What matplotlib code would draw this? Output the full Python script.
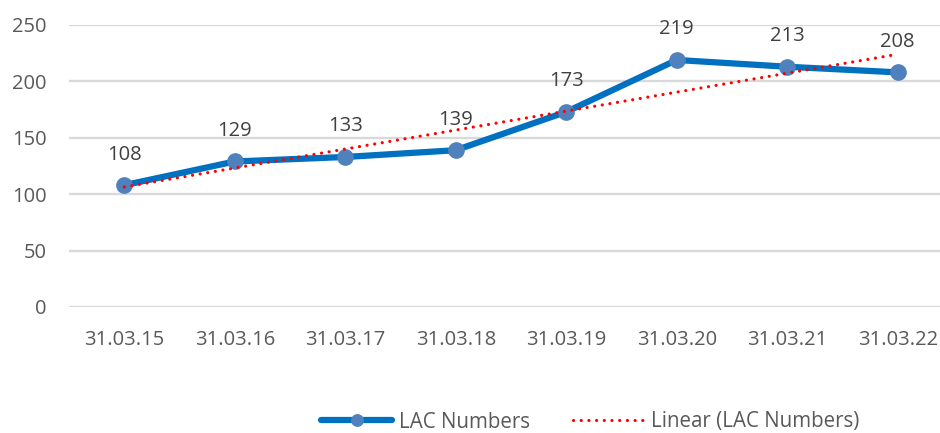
import matplotlib.pyplot as plt
import numpy as np

dates = ["31.03.15", "31.03.16", "31.03.17", "31.03.18",
         "31.03.19", "31.03.20", "31.03.21", "31.03.22"]
lac = [108, 129, 133, 139, 173, 219, 213, 208]

plt.rcParams['font.family'] = ['Open Sans', 'DejaVu Sans']

fig = plt.figure(figsize=(9.4, 4.33), dpi=100)
# plot area runs a little past the right edge, like the cropped original
ax = fig.add_axes([69/940, 1-307/433, 884/940, 282/433])

x = np.arange(len(lac))
line, = ax.plot(x, lac, color='#0070C0', lw=4.5, marker='o', ms=11,
                mfc='#4F81BD', mec='#4F81BD', zorder=3, label='LAC Numbers',
                solid_capstyle='round')

# linear trend, as excel does it
k, b = np.polyfit(x, lac, 1)
trend, = ax.plot(x, k*x + b, color='#FF0000', lw=2.3, ls=(0, (0.01, 2.4)),
                 dash_capstyle='round', zorder=4, label='Linear (LAC Numbers)')

for xi, v in zip(x, lac):
    ax.annotate(str(v), (xi, v), xytext=(0, 22), textcoords='offset points',
                ha='center', va='center', fontsize=14.5, color='#404040')

ax.set_xlim(-0.5, len(lac) - 0.5)
ax.set_ylim(0, 250)
ax.set_yticks(range(0, 251, 50))
ax.set_xticks(x)
ax.set_xticklabels(dates)
ax.tick_params(length=0, labelsize=14.5, labelcolor='#595959')
ax.tick_params(axis='y', pad=16)
ax.tick_params(axis='x', pad=16.5)
ax.grid(axis='y', color='#D9D9D9', lw=1.7)
ax.set_axisbelow(True)
for s in ax.spines.values():
    s.set_visible(False)

fig.legend(handles=[line, trend], loc='center', ncol=2, frameon=False,
           bbox_to_anchor=(0.628, 1-422/433), fontsize=14.8, labelcolor='#595959',
           handlelength=3.45, handletextpad=0.34, columnspacing=2.1,
           markerscale=0.75)

fig.savefig("out.png", dpi=100)
